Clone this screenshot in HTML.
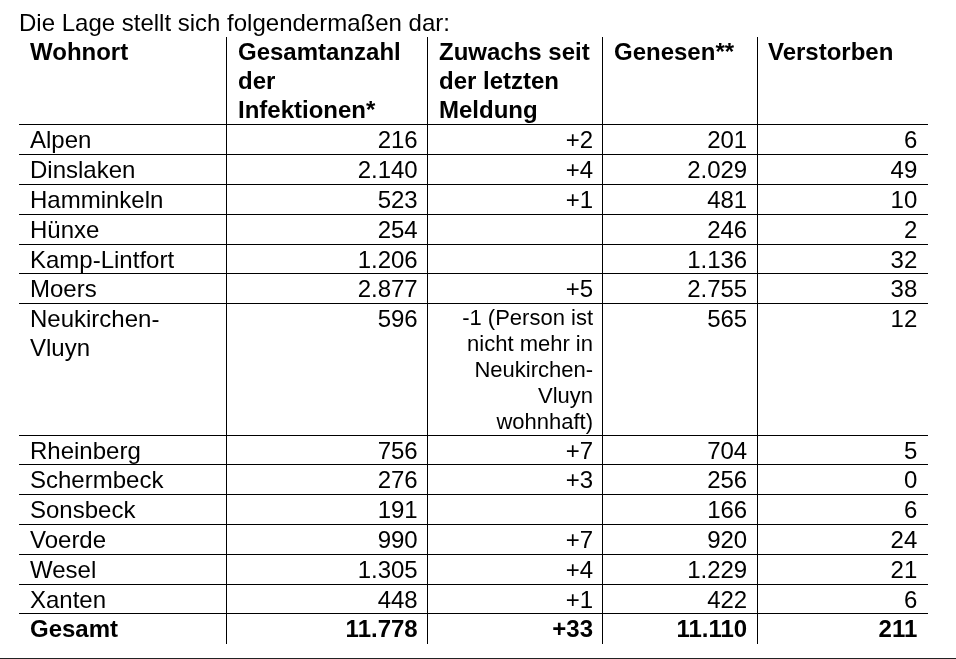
<!DOCTYPE html>
<html lang="de">
<head>
<meta charset="utf-8">
<title>Die Lage stellt sich folgendermaßen dar</title>
<style>
html,body{margin:0;padding:0;background:#fff;}
body{width:956px;height:659px;position:relative;overflow:hidden;
  font-family:"Liberation Sans",Arial,Helvetica,sans-serif;font-size:24px;line-height:29px;color:#000;}
/* own compositing layer -> greyscale glyph anti-aliasing like the reference */
#page{position:absolute;left:0;top:0;width:956px;height:659px;will-change:transform;}
#intro{position:absolute;left:19px;top:8px;margin:0;white-space:nowrap;}
#tbl{position:absolute;left:0;top:37px;width:956px;height:607px;}
.row{position:absolute;left:0;width:956px;}
.row.line:after{content:"";position:absolute;left:19px;width:909px;bottom:-1px;height:1px;background:#000;}
.c{position:absolute;top:0;height:100%;white-space:nowrap;box-sizing:border-box;}
.c1{left:19px;width:207px;padding-left:11px;}
.c2{left:227px;width:200px;padding-left:11px;}
.c3{left:428px;width:174px;padding-left:11px;}
.c4{left:603px;width:154px;padding-left:11px;}
.c5{left:758px;width:170px;padding-left:10px;}
.num .c2{text-align:right;padding:0 9.3px 0 0;}
.num .c3{text-align:right;padding:0 9px 0 0;}
.num .c4{text-align:right;padding:0 9.8px 0 0;}
.num .c5{text-align:right;padding:0 10.7px 0 0;}
.head,.total{font-weight:bold;}
.note{font-size:22px;line-height:26px;padding-top:1px !important;}
.vl{position:absolute;top:0;width:1px;height:607px;background:#000;}
#rule{position:absolute;left:0;top:658px;width:956px;height:1px;background:#222;}
</style>
</head>
<body>
<div id="page">
<p id="intro">Die Lage stellt sich folgendermaßen dar:</p>
<div id="tbl" role="table">
<div class="row head line" role="row" style="top:0px;height:87px"><div class="c c1" role="columnheader">Wohnort</div><div class="c c2" role="columnheader">Gesamtanzahl<br>der<br>Infektionen*</div><div class="c c3" role="columnheader">Zuwachs seit<br>der letzten<br>Meldung</div><div class="c c4" role="columnheader">Genesen**</div><div class="c c5" role="columnheader">Verstorben</div></div>
<div class="row num line" role="row" style="top:88px;height:29px"><div class="c c1" role="cell">Alpen</div><div class="c c2" role="cell">216</div><div class="c c3" role="cell">+2</div><div class="c c4" role="cell">201</div><div class="c c5" role="cell">6</div></div>
<div class="row num line" role="row" style="top:118px;height:29px"><div class="c c1" role="cell">Dinslaken</div><div class="c c2" role="cell">2.140</div><div class="c c3" role="cell">+4</div><div class="c c4" role="cell">2.029</div><div class="c c5" role="cell">49</div></div>
<div class="row num line" role="row" style="top:148px;height:29px"><div class="c c1" role="cell">Hamminkeln</div><div class="c c2" role="cell">523</div><div class="c c3" role="cell">+1</div><div class="c c4" role="cell">481</div><div class="c c5" role="cell">10</div></div>
<div class="row num line" role="row" style="top:178px;height:29px"><div class="c c1" role="cell">Hünxe</div><div class="c c2" role="cell">254</div><div class="c c3" role="cell"></div><div class="c c4" role="cell">246</div><div class="c c5" role="cell">2</div></div>
<div class="row num line" role="row" style="top:208px;height:28px"><div class="c c1" role="cell">Kamp-Lintfort</div><div class="c c2" role="cell">1.206</div><div class="c c3" role="cell"></div><div class="c c4" role="cell">1.136</div><div class="c c5" role="cell">32</div></div>
<div class="row num line" role="row" style="top:237px;height:29px"><div class="c c1" role="cell">Moers</div><div class="c c2" role="cell">2.877</div><div class="c c3" role="cell">+5</div><div class="c c4" role="cell">2.755</div><div class="c c5" role="cell">38</div></div>
<div class="row num line" role="row" style="top:267px;height:131px"><div class="c c1" role="cell">Neukirchen-<br>Vluyn</div><div class="c c2" role="cell">596</div><div class="c c3 note" role="cell">-1 (Person ist<br>nicht mehr in<br>Neukirchen-<br>Vluyn<br>wohnhaft)</div><div class="c c4" role="cell">565</div><div class="c c5" role="cell">12</div></div>
<div class="row num line" role="row" style="top:399px;height:28px"><div class="c c1" role="cell">Rheinberg</div><div class="c c2" role="cell">756</div><div class="c c3" role="cell">+7</div><div class="c c4" role="cell">704</div><div class="c c5" role="cell">5</div></div>
<div class="row num line" role="row" style="top:428px;height:29px"><div class="c c1" role="cell">Schermbeck</div><div class="c c2" role="cell">276</div><div class="c c3" role="cell">+3</div><div class="c c4" role="cell">256</div><div class="c c5" role="cell">0</div></div>
<div class="row num line" role="row" style="top:458px;height:29px"><div class="c c1" role="cell">Sonsbeck</div><div class="c c2" role="cell">191</div><div class="c c3" role="cell"></div><div class="c c4" role="cell">166</div><div class="c c5" role="cell">6</div></div>
<div class="row num line" role="row" style="top:488px;height:29px"><div class="c c1" role="cell">Voerde</div><div class="c c2" role="cell">990</div><div class="c c3" role="cell">+7</div><div class="c c4" role="cell">920</div><div class="c c5" role="cell">24</div></div>
<div class="row num line" role="row" style="top:518px;height:29px"><div class="c c1" role="cell">Wesel</div><div class="c c2" role="cell">1.305</div><div class="c c3" role="cell">+4</div><div class="c c4" role="cell">1.229</div><div class="c c5" role="cell">21</div></div>
<div class="row num line" role="row" style="top:548px;height:28px"><div class="c c1" role="cell">Xanten</div><div class="c c2" role="cell">448</div><div class="c c3" role="cell">+1</div><div class="c c4" role="cell">422</div><div class="c c5" role="cell">6</div></div>
<div class="row num total" role="row" style="top:577px;height:30px"><div class="c c1" role="cell">Gesamt</div><div class="c c2" role="cell">11.778</div><div class="c c3" role="cell">+33</div><div class="c c4" role="cell">11.110</div><div class="c c5" role="cell">211</div></div>
<div class="vl" style="left:226px"></div>
<div class="vl" style="left:427px"></div>
<div class="vl" style="left:602px"></div>
<div class="vl" style="left:757px"></div>
</div>
<div id="rule"></div>
</div>
</body>
</html>
